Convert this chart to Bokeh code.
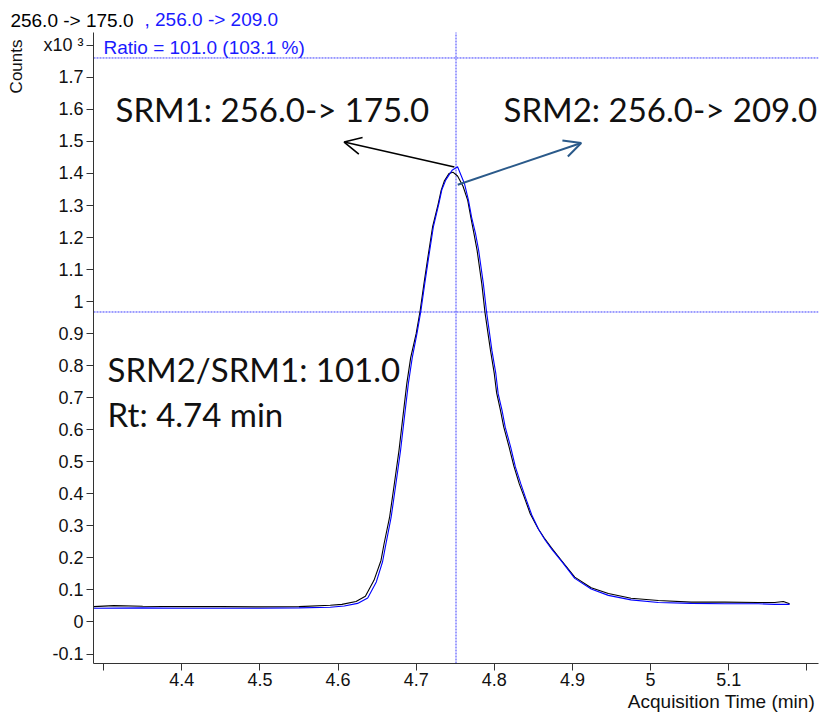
from bokeh.plotting import figure
from bokeh.models import (Range1d, FixedTicker, NumeralTickFormatter, Label,
                          Arrow, OpenHead, LinearAxis)
from bokeh.embed import file_html
from bokeh.resources import INLINE

# SRM1: 256.0 -> 175.0 (black), counts in units of 10^3
time_srm1 = [4.287, 4.313, 4.35, 4.40, 4.45, 4.50, 4.55, 4.59, 4.605, 4.623, 4.635,
             4.646, 4.655, 4.659, 4.666, 4.672, 4.678, 4.683, 4.688, 4.693, 4.700,
             4.705, 4.710, 4.715, 4.721, 4.728, 4.732, 4.736, 4.742, 4.747, 4.753,
             4.760, 4.766, 4.770, 4.774, 4.778, 4.784, 4.788, 4.792, 4.795, 4.800,
             4.803, 4.808, 4.812, 4.819, 4.825, 4.832, 4.838, 4.846, 4.856, 4.864,
             4.873, 4.885, 4.903, 4.924, 4.946, 4.975, 5.010, 5.052, 5.095, 5.138,
             5.159, 5.170, 5.178]
counts_srm1 = [0.048, 0.051, 0.049, 0.048, 0.048, 0.047, 0.048, 0.052, 0.055, 0.064, 0.080,
               0.130, 0.192, 0.245, 0.327, 0.430, 0.535, 0.640, 0.744, 0.825, 0.900,
               0.970, 1.056, 1.138, 1.233, 1.303, 1.347, 1.376, 1.400, 1.404, 1.392,
               1.360, 1.316, 1.263, 1.212, 1.160, 1.056, 0.968, 0.900, 0.850, 0.775,
               0.715, 0.660, 0.610, 0.546, 0.487, 0.431, 0.392, 0.338, 0.292, 0.262,
               0.232, 0.195, 0.140, 0.107, 0.089, 0.074, 0.067, 0.062, 0.062, 0.061,
               0.061, 0.064, 0.057]

# SRM2: 256.0 -> 209.0 (blue)
time_srm2 = [4.287, 4.35, 4.40, 4.45, 4.50, 4.55, 4.59, 4.608, 4.625, 4.638, 4.649,
             4.657, 4.661, 4.668, 4.674, 4.680, 4.685, 4.690, 4.695, 4.701, 4.706,
             4.711, 4.716, 4.722, 4.729, 4.733, 4.738, 4.746, 4.753, 4.762, 4.767,
             4.771, 4.776, 4.780, 4.786, 4.790, 4.794, 4.797, 4.802, 4.805, 4.810,
             4.814, 4.821, 4.827, 4.834, 4.840, 4.848, 4.857, 4.865, 4.874, 4.887,
             4.903, 4.924, 4.946, 4.975, 5.010, 5.052, 5.095, 5.138, 5.159, 5.178]
counts_srm2 = [0.043, 0.044, 0.043, 0.043, 0.043, 0.044, 0.046, 0.050, 0.058, 0.075, 0.125,
               0.188, 0.240, 0.327, 0.430, 0.535, 0.640, 0.744, 0.825, 0.900, 0.970,
               1.056, 1.138, 1.233, 1.305, 1.350, 1.380, 1.410, 1.421, 1.367, 1.316,
               1.263, 1.212, 1.160, 1.056, 0.970, 0.900, 0.847, 0.775, 0.712, 0.660,
               0.608, 0.546, 0.484, 0.431, 0.388, 0.334, 0.288, 0.256, 0.226, 0.187,
               0.136, 0.103, 0.083, 0.069, 0.061, 0.058, 0.057, 0.057, 0.055, 0.055]

x_min, x_max = 4.287, 5.215
y_min, y_axis_top = -0.1296, 1.840
x_ticks = [4.3, 4.4, 4.5, 4.6, 4.7, 4.8, 4.9, 5.0, 5.1, 5.2]
y_ticks = [-0.1, 0, 0.1, 0.2, 0.3, 0.4, 0.5, 0.6, 0.7, 0.8, 0.9, 1, 1.1, 1.2, 1.3,
           1.4, 1.5, 1.6, 1.7, 1.8]
x_label_overrides = {4.3: "", 5.2: ""}
y_label_overrides = {1.8: "x10 \u00b3"}
counts_label_pos = 1.734      # y position of the "Counts" label
header_row_pos = 1.878        # y position of the header row
xlabel_pos = 5.0908           # x position of the x-axis title

cursor_time = 4.751
ratio_upper = 1.7605
ratio_lower = 0.9676

title_srm1 = "256.0 -> 175.0"
title_srm2 = ", 256.0 -> 209.0"
ratio_text = "Ratio = 101.0 (103.1 %)"
srm1_text = "SRM1: 256.0-> 175.0"
srm2_text = "SRM2: 256.0-> 209.0"
ratio_note = "SRM2/SRM1: 101.0"
rt_note = "Rt: 4.74 min"
x_title = "Acquisition Time (min)"

# arrows (data units)
arrow1 = dict(x_start=4.7489, y_start=1.420, x_end=4.6078, y_end=1.498)
arrow2 = dict(x_start=4.7532, y_start=1.365, x_end=4.9113, y_end=1.495)

FRAME_TOP_PX = 4
y_top_range = y_axis_top + (32 - FRAME_TOP_PX) / 320.3

p = figure(width=837, height=718, output_backend="svg", toolbar_location=None,
           title=None,
           x_range=Range1d(x_min, x_max), y_range=Range1d(y_min, y_top_range),
           min_border_left=93, min_border_right=19, min_border_top=FRAME_TOP_PX,
           min_border_bottom=55)
p.outline_line_color = None
p.grid.visible = False
p.background_fill_color = "white"
p.border_fill_color = "white"

TICK_FONT = "Liberation Sans"
for ax in (p.xaxis[0], p.yaxis[0]):
    ax.axis_line_color = "#333333"
    ax.major_tick_line_color = "#333333"
    ax.major_tick_out = 7
    ax.major_tick_in = 0
    ax.minor_tick_line_color = None
    ax.major_label_text_font = TICK_FONT
    ax.major_label_text_font_size = "18px"
    ax.major_label_text_color = "#111111"
    ax.major_label_standoff = 3
    ax.formatter = NumeralTickFormatter(format="0.[0]")

p.xaxis.ticker = FixedTicker(ticks=x_ticks)
p.yaxis.ticker = FixedTicker(ticks=y_ticks)
p.xaxis.major_label_overrides = x_label_overrides
p.yaxis.major_label_overrides = y_label_overrides
p.yaxis.bounds = (y_min, y_axis_top)
p.xaxis.major_label_standoff = 2


def text_axis(pos, text, standoff, size, color="#111111", orientation="horizontal"):
    return LinearAxis(ticker=FixedTicker(ticks=[pos]),
                      major_label_overrides={pos: text},
                      axis_line_color=None, major_tick_line_color=None,
                      minor_tick_line_color=None, major_tick_out=0, major_tick_in=0,
                      major_label_orientation=orientation,
                      major_label_standoff=standoff,
                      major_label_text_font=TICK_FONT,
                      major_label_text_font_size=size,
                      major_label_text_color=color)


# "Counts" (vertical, left of the tick labels)
p.add_layout(text_axis(counts_label_pos, "Counts", 14, "17px", orientation="vertical"), "left")
# header: black part starts left of the frame
p.add_layout(text_axis(header_row_pos, title_srm1, -129, "19px", "black"), "left")
# x axis title, right aligned near the end of the axis
p.add_layout(text_axis(xlabel_pos, x_title, 2, "19px"), "below")

# cursor lines (dotted blue)
CURSOR = dict(line_color="#3c3cff", line_width=1, line_dash="2 1")
p.segment(x0=[x_min, x_min], y0=[ratio_upper, ratio_lower],
          x1=[x_max, x_max], y1=[ratio_upper, ratio_lower], **CURSOR)
p.segment(x0=[cursor_time], y0=[y_min], x1=[cursor_time], y1=[y_axis_top], **CURSOR)

# traces
p.line(time_srm1, counts_srm1, line_color="black", line_width=1.1)
p.line(time_srm2, counts_srm2, line_color="#0000ff", line_width=1.1)

# arrows
p.add_layout(Arrow(end=OpenHead(size=17, line_color="black", line_width=1.6),
                   line_color="black", line_width=1.6, **arrow1))
p.add_layout(Arrow(end=OpenHead(size=17, line_color="#2b5a8a", line_width=2),
                   line_color="#2b5a8a", line_width=2, **arrow2))


def slabel(text, x, y, color="black", size="18px", font=TICK_FONT):
    p.add_layout(Label(x=x, y=y, x_units="screen", y_units="screen", text=text,
                       text_color=color, text_font=font, text_font_size=size,
                       text_baseline="alphabetic"))


# header texts (screen units relative to frame: left=93, bottom=663)
slabel(title_srm2, 51, 644, "#1a1aff", "19px")
slabel(ratio_text, 10, 616, "#1a1aff", "19px")

# big annotations
BIG = "Lato"
slabel(srm1_text, 22, 555, "#111111", "33px", BIG)
slabel(srm2_text, 410, 555, "#111111", "33px", BIG)
slabel(ratio_note, 14, 295, "#111111", "33px", BIG)
slabel(rt_note, 14, 250, "#111111", "33px", BIG)

open("out.html", "w").write(file_html(p, INLINE))
